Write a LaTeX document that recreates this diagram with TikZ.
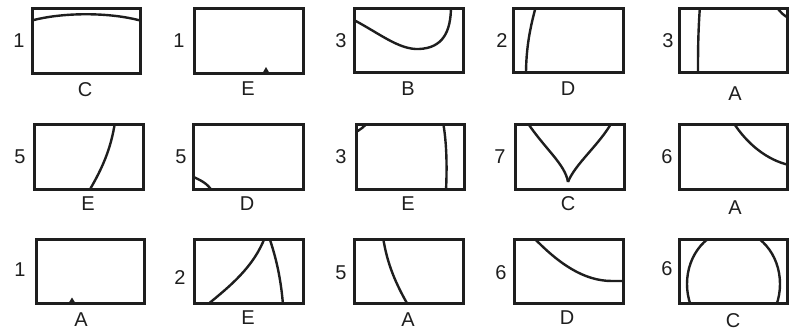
\documentclass[tikz,border=0pt]{standalone}
\usepackage{fontspec}
\setmainfont{Liberation Sans}
\definecolor{ink}{HTML}{1E1E1E}
\newcommand\pnl[6]{%
 \begin{scope}[shift={(#2,#3)}]
  \begin{scope}\clip (0,0) rectangle (#4,#5); #6\end{scope}
  \node[frame, anchor=north west, minimum width=#4pt, minimum height=#5pt] (#1) at (0,0) {};
 \end{scope}}
\begin{document}
\begin{tikzpicture}[x=1pt,y=-1pt,
 frame/.style={draw=ink,line width=3pt,inner sep=0pt,outer sep=0pt},
 crv/.style={draw=ink,line width=2.4pt},
 lbl/.style={font=\fontsize{20}{22}\selectfont,text=ink,inner sep=0pt}]
\useasboundingbox (0,0) rectangle (793,332);
% row 1
\pnl{p1}{32}{8}{108}{65}{\draw[crv] (-2,13) .. controls (30,4) and (78,4) .. (110,13);}
\pnl{p2}{194}{8}{109}{65}{\fill[ink] (68,66) -- (72,59) -- (76,66) -- cycle;}
\pnl{p3}{354}{8}{109}{64}{\draw[crv] (-2,11) .. controls (25,25) and (45,42) .. (65,41) .. controls (88,40) and (97,25) .. (97,-2);}
\pnl{p4}{513}{8}{110}{64}{\draw[crv] (23,-2) .. controls (17,20) and (13,40) .. (13,67);}
\pnl{p5}{679}{8}{108}{64}{\draw[crv] (21,-2) .. controls (19,25) and (19,45) .. (19,67);
 \draw[crv] (97,-2) .. controls (101,4) and (105,8) .. (110,10);}
% row 2
\pnl{p6}{34}{124}{109}{65}{\draw[crv] (81,-2) .. controls (77,25) and (68,45) .. (55,67);}
\pnl{p7}{193}{124}{110}{65}{\draw[crv] (-2,52) .. controls (8,56) and (15,60) .. (19,67);}
\pnl{p8}{356}{124}{108}{65}{\draw[crv] (12,-2) .. controls (8,3) and (4,6) .. (-2,9);
 \draw[crv] (87,-2) .. controls (91,20) and (91,45) .. (90,67);}
\pnl{p9}{515}{124}{109}{65}{\draw[crv] (12,-2) .. controls (30,25) and (50,40) .. (53,58);
 \draw[crv] (97,-2) .. controls (85,20) and (60,40) .. (53,58);}
\pnl{p10}{679}{124}{108}{65}{\draw[crv] (54,-2) .. controls (68,20) and (88,36) .. (110,41);}
% row 3
\pnl{p11}{36}{239}{108}{64}{\fill[ink] (32,65) -- (36,58.5) -- (40,65) -- cycle;}
\pnl{p12}{194}{239}{109}{64}{\draw[crv] (13,66) .. controls (35,48) and (60,28) .. (71,-2);
 \draw[crv] (75,-2) .. controls (82,18) and (87,40) .. (89,66);}
\pnl{p13}{354}{239}{109}{64}{\draw[crv] (29,-2) .. controls (33,25) and (42,45) .. (54,66);}
\pnl{p14}{514}{239}{109}{64}{\draw[crv] (19,-2) .. controls (45,25) and (70,42) .. (98,42) -- (111,42);}
\pnl{p15}{679}{239}{108}{64}{\draw[crv] (54.5,45) ellipse [x radius=46.5, y radius=54];}
% labels
\node[lbl] (n1) at (19,41) {1};   \node[lbl] (l1) at (85,90) {C};
\node[lbl] (n2) at (179,41) {1};  \node[lbl] (l2) at (248,89) {E};
\node[lbl] (n3) at (341,41) {3};  \node[lbl] (l3) at (408,89) {B};
\node[lbl] (n4) at (502,41) {2};  \node[lbl] (l4) at (568,89) {D};
\node[lbl] (n5) at (668,41) {3};  \node[lbl] (l5) at (735,94) {A};
\node[lbl] (n6) at (20,157) {5};  \node[lbl] (l6) at (88,204) {E};
\node[lbl] (n7) at (181,157) {5}; \node[lbl] (l7) at (247,204) {D};
\node[lbl] (n8) at (341,157) {3}; \node[lbl] (l8) at (408,204) {E};
\node[lbl] (n9) at (500,157) {7}; \node[lbl] (l9) at (568,204) {C};
\node[lbl] (n10) at (667,157) {6}; \node[lbl] (l10) at (735,208) {A};
\node[lbl] (n11) at (20,270) {1}; \node[lbl] (l11) at (81,320) {A};
\node[lbl] (n12) at (180,278) {2}; \node[lbl] (l12) at (248,318) {E};
\node[lbl] (n13) at (341,273) {5}; \node[lbl] (l13) at (408,320) {A};
\node[lbl] (n14) at (501,273) {6}; \node[lbl] (l14) at (567,318) {D};
\node[lbl] (n15) at (667,269) {6}; \node[lbl] (l15) at (733,321) {C};
\end{tikzpicture}
\end{document}
